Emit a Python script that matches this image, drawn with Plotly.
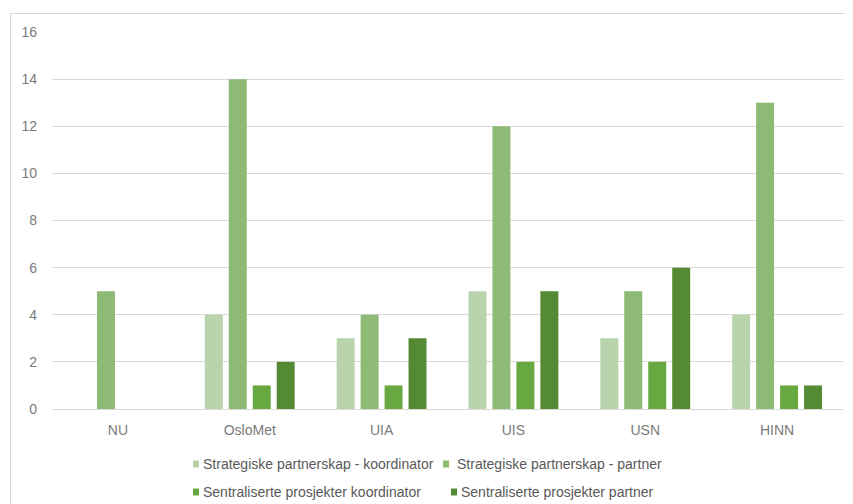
import plotly.graph_objects as go

categories = ["NU", "OsloMet", "UIA", "UIS", "USN", "HINN"]
series_names = [
    "Strategiske partnerskap - koordinator",
    "Strategiske partnerskap - partner",
    "Sentraliserte prosjekter koordinator",
    "Sentraliserte prosjekter partner",
]
sp_koordinator = [0, 4, 3, 5, 3, 4]
sp_partner = [5, 14, 4, 12, 5, 13]
sent_koordinator = [0, 1, 1, 2, 2, 1]
sent_partner = [0, 2, 3, 5, 6, 1]
y_ticks = [0, 2, 4, 6, 8, 10, 12, 14, 16]

colors = ["#B9D3AC", "#8DBA74", "#68A840", "#548A33"]
series_values = [sp_koordinator, sp_partner, sent_koordinator, sent_partner]

# page has an 8px body margin; figure sized to fit the 853x504 window
OFF = 8
W, H = 853 - OFF, 504 - OFF
# plot area in page pixels: x 52..843, y 32..409
L = 52 - OFF
T = 32 - OFF
R = W - (843 - OFF)
B = H - (409 - OFF)
PW, PH = W - L - R, H - T - B
FONT = "Liberation Sans, Arial, sans-serif"


def px(x):
    # page x pixel -> paper coordinate
    return (x - OFF - L) / PW


def py(y):
    # page y pixel -> paper coordinate
    return (H - B - (y - OFF)) / PH


fig = go.Figure()
for name, vals, col in zip(series_names, series_values, colors):
    fig.add_trace(go.Bar(x=categories, y=vals, name=name, marker_color=col,
                         marker_line_width=0, showlegend=False))

fig.update_layout(
    width=W, height=H,
    margin=dict(l=L, r=R, t=T, b=B),
    paper_bgcolor="white", plot_bgcolor="white",
    barmode="group", bargap=0.273, bargroupgap=0.25,
    font=dict(family=FONT, size=13, color="#6E6E6E"),
    xaxis=dict(showgrid=False, showline=False, zeroline=False,
               tickfont=dict(size=14, color="#7A7A7A"), ticklabelstandoff=11),
    yaxis=dict(range=[0, 16], tickvals=y_ticks, showgrid=True, gridcolor="#D9D9D9",
               gridwidth=1, zeroline=True, zerolinecolor="#D9D9D9", zerolinewidth=1,
               showline=False, tickfont=dict(size=14, color="#7A7A7A"),
               ticklabelstandoff=14),
)

# outer chart border
fig.add_shape(type="rect", xref="paper", yref="paper",
              x0=px(10.5), x1=px(870), y0=py(13.5), y1=py(530),
              line=dict(color="#D9D9D9", width=1), layer="below")

# custom legend (two rows)
legend_items = [
    (193, 464, 201),
    (443, 464, 455),
    (193, 492, 201),
    (451, 492, 459),
]
for (mx, my, tx), name, col in zip(legend_items, series_names, colors):
    fig.add_shape(type="rect", xref="paper", yref="paper",
                  x0=px(mx), x1=px(mx + 6), y0=py(my - 3.5), y1=py(my + 3.5),
                  line_width=0, fillcolor=col)
    fig.add_annotation(x=px(tx), y=py(my), xref="paper", yref="paper",
                       xanchor="left", yanchor="middle", showarrow=False,
                       text=name, font=dict(size=14, color="#595959", family=FONT))

fig.write_html("out.html")
